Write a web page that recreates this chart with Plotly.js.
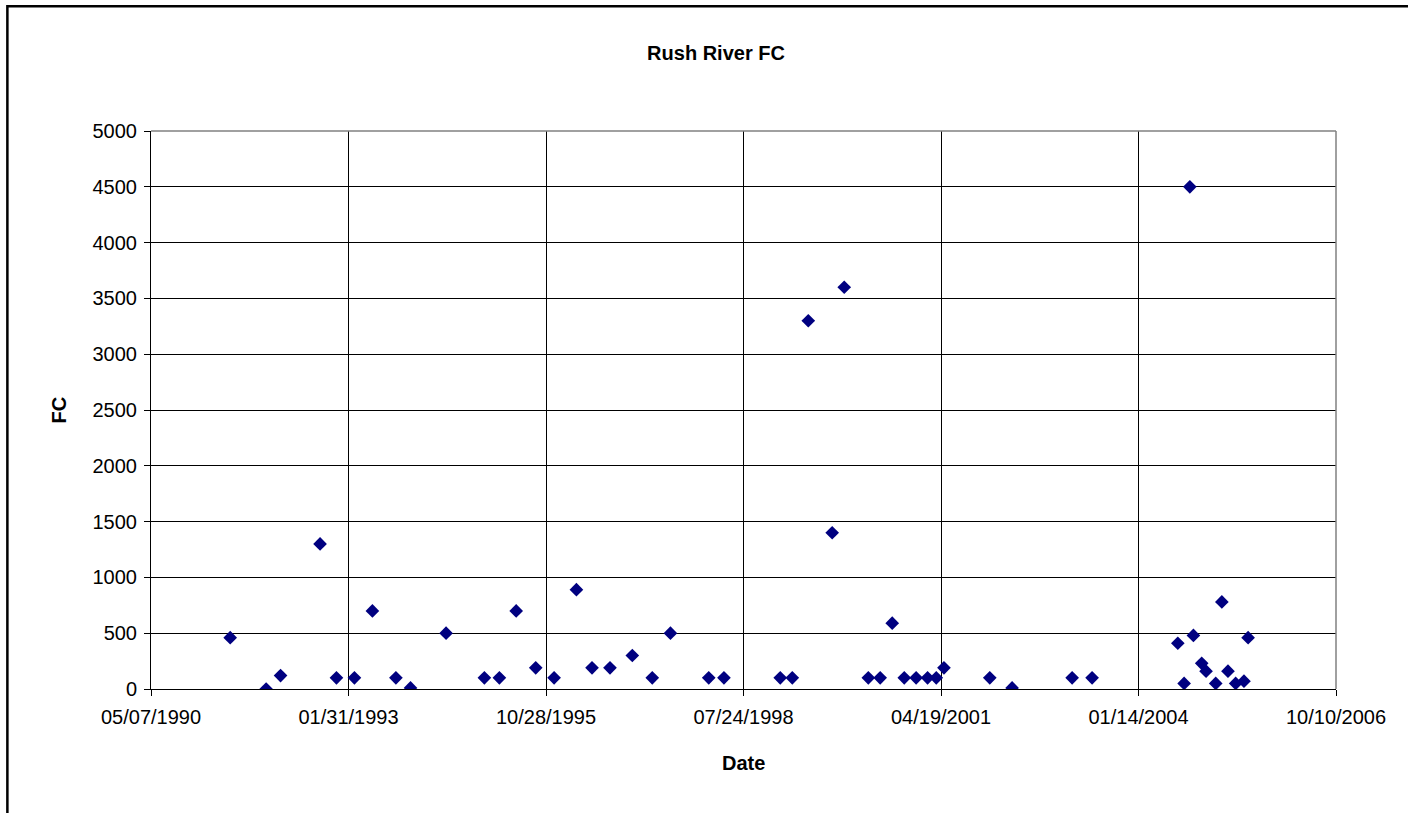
<!DOCTYPE html>
<html>
<head>
<meta charset="utf-8">
<script src="https://cdn.plot.ly/plotly-3.0.1.min.js"></script>
<style>html,body{margin:0;padding:0;background:#fff;}#chart{width:1408px;height:813px;}</style>
</head>
<body>
<div id="chart"></div>
<script>
// Sample dates and fecal coliform values
var dates = [
  "1991-06-12","1991-12-11","1992-02-22","1992-09-09","1992-12-01","1993-03-02",
  "1993-06-01","1993-09-28","1993-12-11","1994-06-09","1994-12-20","1995-03-06",
  "1995-05-30","1995-09-06","1995-12-08","1996-03-30","1996-06-17","1996-09-16",
  "1997-01-07","1997-04-18","1997-07-19","1998-01-29","1998-04-16","1999-01-26",
  "1999-03-28","1999-06-17","1999-10-16","1999-12-16","2000-04-16","2000-06-15",
  "2000-08-15","2000-10-15","2000-12-14","2001-02-10","2001-03-26","2001-05-04",
  "2001-12-22","2002-04-14","2003-02-12","2003-05-24","2004-07-31","2004-09-01",
  "2004-09-30","2004-10-18","2004-11-29","2004-12-21","2005-02-08","2005-03-11",
  "2005-04-11","2005-05-20","2005-07-01","2005-07-22"
];
var fc = [
  460, 0, 120, 1300, 100, 100,
  700, 100, 10, 500, 100, 100,
  700, 190, 100, 890, 190, 190,
  300, 100, 500, 100, 100, 100,
  100, 3300, 1400, 3600, 100, 100,
  590, 100, 100, 100, 100, 190,
  100, 10, 100, 100, 410, 50,
  4500, 480, 230, 160, 50, 780,
  160, 50, 70, 460
];
var xRange = ["1990-05-07", "2006-10-10"];
var yRange = [0, 5000];
var chartTitle = "Rush River FC";
var xTitle = "Date";
var yTitle = "FC";

var font = "Liberation Sans, Arial, sans-serif";

var trace = {
  x: dates, y: fc, type: "scatter", mode: "markers",
  marker: {symbol: "diamond", size: 10.5, color: "#000080", line: {width: 0}},
  hoverinfo: "x+y"
};

var layout = {
  width: 1408, height: 813,
  margin: {l: 151, r: 72, t: 131, b: 124, pad: 0},
  paper_bgcolor: "#ffffff", plot_bgcolor: "#ffffff",
  showlegend: false,
  font: {family: font, size: 20, color: "#000"},
  title: {text: "<b>" + chartTitle + "</b>", font: {family: font, size: 20, color: "#000"},
          x: 716/1408, xref: "container", xanchor: "center",
          y: 1 - 53/813, yref: "container", yanchor: "middle"},
  xaxis: {
    type: "date", range: xRange, tick0: xRange[0], dtick: 1000*86400000,
    tickformat: "%m/%d/%Y", showgrid: true, gridcolor: "#000", gridwidth: 1,
    showline: true, linecolor: "#000", linewidth: 1, zeroline: false,
    ticks: "outside", ticklen: 6, tickcolor: "#000", tickwidth: 1, ticklabelstandoff: 4,
    tickfont: {family: font, size: 20, color: "#000"}, fixedrange: true
  },
  yaxis: {
    range: yRange, dtick: 500, tick0: 0, showgrid: true, gridcolor: "#000", gridwidth: 1,
    showline: true, linecolor: "#000", linewidth: 1, zeroline: false,
    ticks: "outside", ticklen: 6, tickcolor: "#000", tickwidth: 1, ticklabelstandoff: 3,
    tickfont: {family: font, size: 20, color: "#000"}, fixedrange: true
  },
  annotations: [
    {text: "<b>" + xTitle + "</b>", xref: "paper", yref: "paper", x: 0.5, y: -0.1332,
     xanchor: "center", yanchor: "middle", showarrow: false, font: {family: font, size: 20, color: "#000"}},
    {text: "<b>" + yTitle + "</b>", xref: "paper", yref: "paper", x: -0.0773, y: 0.5,
     xanchor: "center", yanchor: "middle", textangle: -90, showarrow: false, font: {family: font, size: 20, color: "#000"}}
  ],
  shapes: [
    // chart area frame
    {type: "rect", xref: "paper", yref: "paper", x0: -0.1212, x1: 1.2, y0: -0.5, y1: 1.2236,
     line: {color: "#000", width: 2.5}, layer: "above"},
    // plot area border (top and right)
    {type: "line", xref: "paper", yref: "paper", x0: 0, x1: 1, y0: 1, y1: 1, line: {color: "#808080", width: 1.5}, layer: "above"},
    {type: "line", xref: "paper", yref: "paper", x0: 1, x1: 1, y0: 0, y1: 1, line: {color: "#808080", width: 1.5}, layer: "above"}
  ]
};

Plotly.newPlot("chart", [trace], layout, {displayModeBar: false, staticPlot: true});
</script>
</body>
</html>
